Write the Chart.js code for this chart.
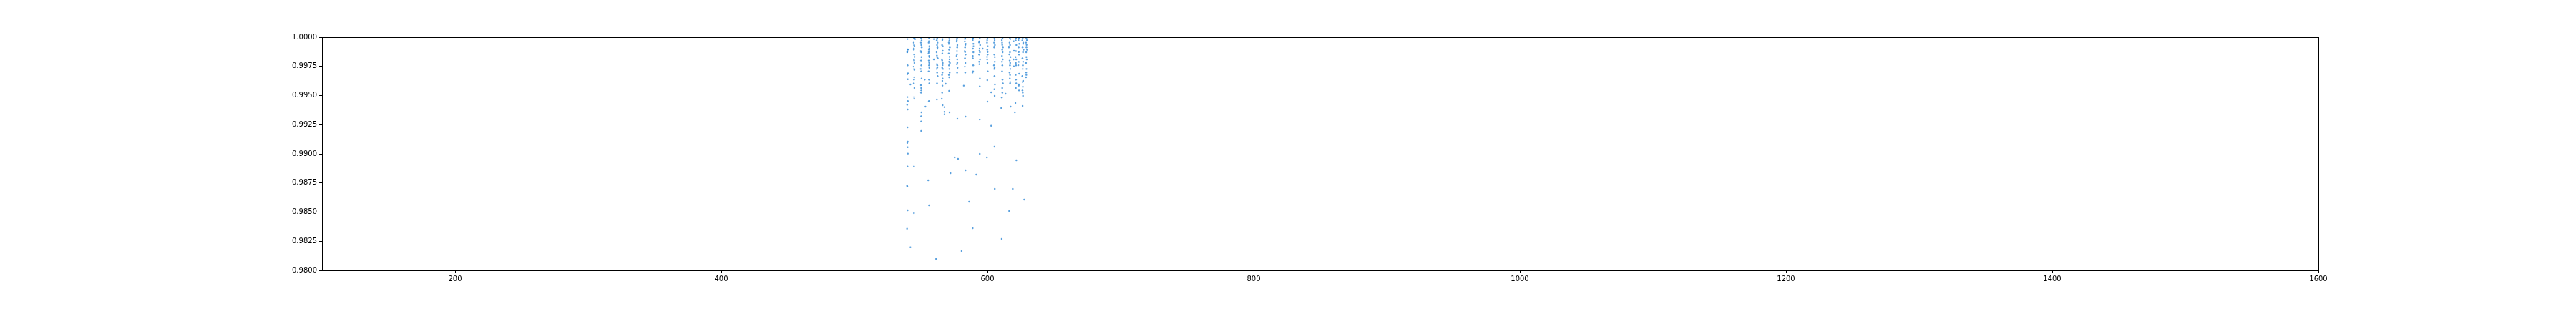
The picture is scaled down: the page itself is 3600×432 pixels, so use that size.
<!DOCTYPE html>
<html>
<head>
<meta charset="utf-8">
<script src="https://cdn.jsdelivr.net/npm/chart.js@4/dist/chart.umd.min.js"></script>
<style>
  html, body { margin: 0; padding: 0; background: #fff; }
  #wrap { width: 3600px; height: 432px; }
</style>
</head>
<body>
<div id="wrap"><canvas id="chart" width="3600" height="432"></canvas></div>
<script>
// scatter values, grouped by the vertical streaks
const xValues = [
  // ~540
  539.9, 540.2, 539.7, 540.0, 540.3, 539.8, 540.1, 539.9, 540.2, 539.7, 540.0, 539.9, 540.1, 539.8, 540.0, 540.2, 539.9, 539.6, 539.8, 540.0, 539.6, 542.1, 542.1,
  // ~545
  544.8, 545.1, 544.6, 544.9, 545.2, 544.7, 545.0, 544.8, 545.1, 544.6, 544.9, 545.0, 544.8, 544.7, 545.1, 544.9, 545.0, 544.8, 544.8, 545.7,
  // ~550
  550.2, 550.5, 550.0, 550.3, 550.6, 549.9, 550.2, 550.4, 550.1, 550.3, 549.9, 550.2, 550.5, 550.0, 550.2, 550.3, 550.1, 550.4, 550.2, 550.2, 550.2, 553.4, 552.8,
  // ~556
  556.1, 555.8, 556.3, 556.0, 555.7, 556.2, 556.4, 555.9, 556.1, 556.3, 555.8, 556.1, 556.3, 556.0, 555.5, 556.1, 559.7, 559.7,
  // ~562
  562.3, 561.9, 562.5, 562.1, 562.4, 561.8, 562.2, 562.6, 562.0, 562.3, 561.9, 562.2, 562.5, 562.1, 562.0, 561.4,
  // ~566
  566.3, 565.9, 566.5, 566.1, 565.8, 566.4, 566.0, 566.6, 566.2, 565.9, 566.3, 566.1, 566.2, 566.0, 565.7, 566.3, 567.7, 567.7, 567.7, 568.6,
  // ~571
  571.4, 571.0, 571.7, 571.2, 570.9, 571.5, 571.8, 571.1, 571.4, 571.6, 571.0, 571.3, 571.2, 571.5, 572.2, 575.4, 577.9, 577.4,
  // ~577
  577.2, 576.9, 577.4, 577.1, 576.8, 577.3, 577.0, 577.5, 577.2, 580.6,
  // ~583
  583.3, 583.0, 583.6, 583.2, 582.9, 583.5, 583.1, 583.4, 583.0, 583.3, 582.2, 583.5, 583.5, 586.2, 588.9,
  // ~589
  589.2, 588.9, 589.5, 589.1, 589.4, 589.0, 589.3, 589.2, 588.8, 591.6,
  // ~594
  594.2, 593.9, 594.5, 594.1, 594.3, 593.8, 594.4, 594.0, 594.3, 594.2, 594.2, 594.2, 596.4,
  // ~600
  600.0, 599.7, 600.2, 599.9, 600.1, 599.8, 600.0, 600.2, 599.9, 600.0, 599.6, 602.8, 602.8,
  // ~605
  605.3, 605.0, 605.6, 605.2, 605.5, 604.9, 605.4, 605.1, 605.3, 605.6, 605.2, 605.4, 605.3, 605.5,
  // ~611
  611.3, 611.0, 611.6, 611.1, 611.4, 610.9, 611.5, 611.2, 611.0, 611.3, 611.6, 611.1, 611.2, 610.8, 610.4, 610.7, 613.6,
  // ~616
  616.8, 617.2, 616.6, 617.0, 616.9, 617.3, 616.7, 617.1, 616.9, 617.2, 616.6, 617.0, 616.8, 617.1, 617.0, 617.4, 616.3, 619.0,
  // ~621
  621.5, 621.2, 621.7, 621.4, 621.1, 621.6, 621.3, 621.5, 621.2, 621.4, 621.6, 621.3, 621.0, 620.6, 621.7,
  // ~624
  623.6, 623.9, 623.4, 623.7, 623.5, 623.8, 623.6, 623.5, 623.7,
  // ~626.5
  626.5, 626.2, 626.8, 626.4, 626.7, 626.3, 626.6, 626.5, 626.2, 626.8, 626.4, 626.6, 626.3, 626.5, 626.7, 626.4, 627.6,
  // ~629
  629.2, 629.0, 629.3, 629.1, 629.2, 629.0, 629.3, 629.1, 629.2, 629.0
];

const yValues = [
  // ~540
  0.99984, 0.99896, 0.99871, 0.99759, 0.99691, 0.99683, 0.99640, 0.99487, 0.99452, 0.99421, 0.99380, 0.99227, 0.99104, 0.99094, 0.99057, 0.99002, 0.98892, 0.98726, 0.98720, 0.98515, 0.98358, 0.99595, 0.98198,
  // ~545
  0.99994, 0.99990, 0.99953, 0.99933, 0.99922, 0.99892, 0.99851, 0.99810, 0.99779, 0.99748, 0.99728, 0.99656, 0.99636, 0.99605, 0.99564, 0.99487, 0.99472, 0.98892, 0.98491, 0.99984,
  // ~550
  0.99990, 0.99973, 0.99953, 0.99933, 0.99912, 0.99881, 0.99871, 0.99830, 0.99800, 0.99759, 0.99728, 0.99708, 0.99646, 0.99589, 0.99564, 0.99544, 0.99524, 0.99356, 0.99323, 0.99278, 0.99196, 0.99405, 0.99636,
  // ~556
  0.99994, 0.99953, 0.99922, 0.99892, 0.99861, 0.99840, 0.99830, 0.99800, 0.99759, 0.99738, 0.99708, 0.99636, 0.99605, 0.99452, 0.98773, 0.98558, 0.99984, 0.99810,
  // ~562
  0.99994, 0.99973, 0.99953, 0.99933, 0.99902, 0.99871, 0.99830, 0.99820, 0.99769, 0.99759, 0.99728, 0.99697, 0.99667, 0.99605, 0.99466, 0.98098,
  // ~566
  0.99984, 0.99933, 0.99922, 0.99861, 0.99810, 0.99779, 0.99738, 0.99728, 0.99697, 0.99677, 0.99646, 0.99626, 0.99585, 0.99524, 0.99472, 0.99417, 0.99401, 0.99360, 0.99339, 0.99601,
  // ~571
  0.99973, 0.99943, 0.99912, 0.99892, 0.99861, 0.99810, 0.99779, 0.99759, 0.99728, 0.99697, 0.99677, 0.99656, 0.99540, 0.99356, 0.98834, 0.98969, 0.98957, 0.99301,
  // ~577
  0.99990, 0.99963, 0.99933, 0.99881, 0.99840, 0.99810, 0.99769, 0.99738, 0.99697, 0.98166,
  // ~583
  0.99994, 0.99963, 0.99943, 0.99912, 0.99881, 0.99851, 0.99820, 0.99779, 0.99748, 0.99697, 0.99585, 0.99319, 0.98859, 0.98589, 0.98362,
  // ~589
  0.99994, 0.99973, 0.99922, 0.99902, 0.99871, 0.99820, 0.99759, 0.99708, 0.99697, 0.98822,
  // ~594
  0.99990, 0.99963, 0.99933, 0.99902, 0.99871, 0.99851, 0.99810, 0.99769, 0.99646, 0.99579, 0.99294, 0.99000, 0.99902,
  // ~600
  0.99994, 0.99953, 0.99922, 0.99892, 0.99851, 0.99810, 0.99779, 0.99708, 0.99632, 0.99448, 0.98969, 0.99528, 0.99241,
  // ~605
  0.99990, 0.99953, 0.99933, 0.99851, 0.99830, 0.99759, 0.99738, 0.99728, 0.99667, 0.99595, 0.99554, 0.99497, 0.99061, 0.98699,
  // ~611
  0.99990, 0.99953, 0.99912, 0.99892, 0.99871, 0.99840, 0.99810, 0.99759, 0.99708, 0.99636, 0.99605, 0.99564, 0.99524, 0.99483, 0.99393, 0.98270, 0.99515,
  // ~616
  0.99994, 0.99984, 0.99953, 0.99933, 0.99871, 0.99830, 0.99800, 0.99779, 0.99759, 0.99728, 0.99697, 0.99677, 0.99646, 0.99616, 0.99605, 0.99405, 0.98509, 0.98699,
  // ~621
  0.99994, 0.99973, 0.99933, 0.99881, 0.99830, 0.99810, 0.99779, 0.99759, 0.99677, 0.99636, 0.99605, 0.99564, 0.99436, 0.99356, 0.98945,
  // ~624
  0.99990, 0.99943, 0.99912, 0.99851, 0.99789, 0.99687, 0.99595, 0.99585, 0.99544,
  // ~626.5
  0.99994, 0.99973, 0.99943, 0.99912, 0.99871, 0.99820, 0.99759, 0.99728, 0.99667, 0.99626, 0.99616, 0.99575, 0.99544, 0.99524, 0.99497, 0.99411, 0.98607,
  // ~629
  0.99990, 0.99953, 0.99912, 0.99871, 0.99830, 0.99779, 0.99728, 0.99697, 0.99677, 0.99656
];

// extra points in the crowded band just under 1.0
const topX = [
  540.1, 539.8,
  545.0, 544.7, 545.2, 544.9, 545.1,
  556.0, 556.3, 555.9, 556.2,
  562.1, 562.4, 562.0, 562.3,
  566.1, 566.4, 566.0, 566.3,
  571.3, 571.0, 571.5, 571.2,
  577.0, 577.3, 577.1, 577.4,
  583.1, 583.4, 583.2,
  589.1, 589.4, 589.0,
  593.7, 594.0, 593.8,
  599.8, 600.1, 599.7,
  605.4, 605.1, 605.5,
  610.8, 611.1, 610.9,
  616.1, 616.4,
  619.7, 619.9, 619.6, 619.8,
  623.3, 623.5, 623.2,
  626.9, 627.1, 626.8,
  629.6, 629.4, 629.7, 629.5
];

const topY = [
  0.99893, 0.99873,
  0.99924, 0.99904, 0.99832, 0.99801, 0.99720,
  0.99965, 0.99904, 0.99873, 0.99781,
  0.99985, 0.99913, 0.99843, 0.99740,
  0.99975, 0.99883, 0.99800, 0.99760,
  0.99996, 0.99955, 0.99832, 0.99790,
  0.99975, 0.99913, 0.99853, 0.99780,
  0.99985, 0.99934, 0.99873,
  0.99985, 0.99943, 0.99840,
  0.99955, 0.99883, 0.99790,
  0.99975, 0.99873, 0.99832,
  0.99975, 0.99913, 0.99790,
  0.99975, 0.99934, 0.99790,
  0.99913, 0.99853,
  0.99965, 0.99883, 0.99810, 0.99750,
  0.99975, 0.99873, 0.99760,
  0.99953, 0.99893, 0.99790,
  0.99975, 0.99934, 0.99893, 0.99810
];

const xTicks = [200, 400, 600, 800, 1000, 1200, 1400, 1600];
const yTicks = [0.98, 0.9825, 0.985, 0.9875, 0.99, 0.9925, 0.995, 0.9975, 1.0];

const points = xValues.map((x, i) => ({ x: x, y: yValues[i] }))
  .concat(topX.map((x, i) => ({ x: x, y: topY[i] })));

// full box around the plot, like matplotlib spines
const frame = {
  id: 'frame',
  afterDraw(chart) {
    const a = chart.chartArea;
    const ctx = chart.ctx;
    ctx.save();
    ctx.strokeStyle = '#000';
    ctx.lineWidth = 1;
    ctx.strokeRect(Math.round(a.left) + 0.5, Math.round(a.top) + 0.5,
      Math.round(a.right - a.left), Math.round(a.bottom - a.top));
    ctx.restore();
  }
};

new Chart(document.getElementById('chart'), {
  type: 'scatter',
  data: {
    datasets: [{
      data: points,
      backgroundColor: 'rgba(48,136,214,0.8)',
      borderWidth: 0,
      pointRadius: 1.2,
      pointHoverRadius: 1.2
    }]
  },
  options: {
    responsive: false,
    animation: false,
    devicePixelRatio: 1,
    layout: { padding: { left: 0, right: 360, top: 52, bottom: 0 } },
    plugins: { legend: { display: false }, tooltip: { enabled: false } },
    scales: {
      x: {
        type: 'linear',
        min: 100,
        max: 1600,
        afterBuildTicks: axis => { axis.ticks = xTicks.map(v => ({ value: v })); },
        afterFit: axis => { axis.height = 54; },
        grid: { drawOnChartArea: false, tickLength: 4, color: '#000', tickColor: '#000' },
        border: { display: false },
        ticks: {
          color: '#000',
          padding: 2,
          maxRotation: 0,
          font: { family: 'DejaVu Sans', size: 10 },
          callback: v => String(v)
        }
      },
      y: {
        type: 'linear',
        min: 0.98,
        max: 1.0,
        afterBuildTicks: axis => { axis.ticks = yTicks.map(v => ({ value: v })); },
        afterFit: axis => { axis.width = 450; },
        grid: { drawOnChartArea: false, tickLength: 4, color: '#000', tickColor: '#000' },
        border: { display: false },
        ticks: {
          color: '#000',
          padding: 3,
          font: { family: 'DejaVu Sans', size: 10 },
          callback: v => v.toFixed(4)
        }
      }
    }
  },
  plugins: [frame]
});
</script>
</body>
</html>
